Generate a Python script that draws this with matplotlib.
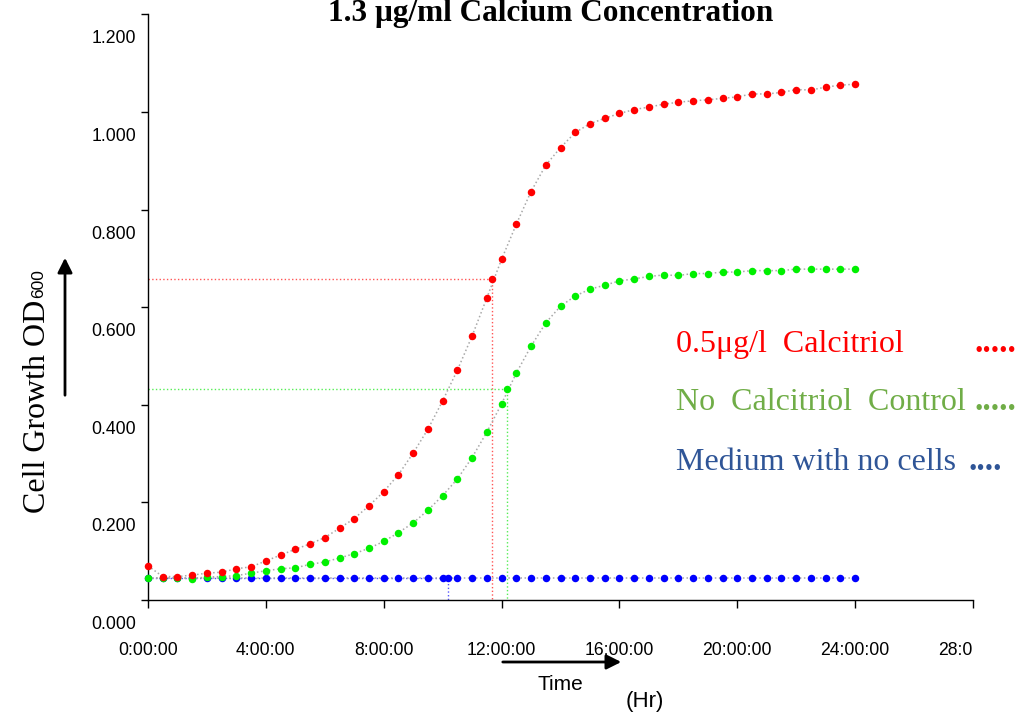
import matplotlib
matplotlib.use("Agg")
import matplotlib.pyplot as plt
import matplotlib.transforms as mtransforms
from matplotlib.ticker import FuncFormatter
import numpy as np

# do OD600 moi 30 phut, 0h -> 24h
hours = np.arange(0, 24.5, 0.5)

od_calcitriol = [0.070, 0.048, 0.048, 0.051, 0.055, 0.057, 0.064, 0.068,
                 0.080, 0.092, 0.104, 0.115, 0.128, 0.147, 0.167, 0.193,
                 0.222, 0.257, 0.301, 0.350, 0.408, 0.471, 0.541, 0.619,
                 0.698, 0.770, 0.837, 0.891, 0.927, 0.958, 0.976, 0.987,
                 0.997, 1.005, 1.010, 1.016, 1.020, 1.023, 1.025, 1.028,
                 1.031, 1.037, 1.037, 1.040, 1.046, 1.045, 1.051, 1.055,
                 1.057]

od_control = [0.045, 0.045, 0.045, 0.044, 0.047, 0.048, 0.050, 0.055,
              0.060, 0.064, 0.066, 0.073, 0.078, 0.086, 0.095, 0.106,
              0.120, 0.138, 0.158, 0.184, 0.214, 0.248, 0.292, 0.344,
              0.402, 0.465, 0.520, 0.568, 0.602, 0.623, 0.637, 0.645,
              0.654, 0.658, 0.663, 0.666, 0.665, 0.669, 0.669, 0.672,
              0.672, 0.675, 0.675, 0.675, 0.678, 0.678, 0.678, 0.678,
              0.678]

od_medium = [0.046, 0.046, 0.046, 0.046, 0.046, 0.046, 0.046, 0.046,
             0.046, 0.046, 0.046, 0.046, 0.046, 0.046, 0.046, 0.046,
             0.046, 0.046, 0.046, 0.046, 0.046, 0.046, 0.046, 0.046,
             0.046, 0.046, 0.046, 0.046, 0.046, 0.046, 0.046, 0.046,
             0.046, 0.046, 0.046, 0.046, 0.046, 0.046, 0.046, 0.046,
             0.046, 0.046, 0.046, 0.046, 0.046, 0.046, 0.046, 0.046,
             0.046]

# duong gioi han (calcitriol, control, medium)
guide_hours = [11.67, 12.2, 10.17]
guide_od = [0.657, 0.433, 0.046]

x_ticks = [0, 4, 8, 12, 16, 20, 24, 28]
y_ticks = [0.0, 0.2, 0.4, 0.6, 0.8, 1.0, 1.2]

W, H = 1025, 717
SANS = "Liberation Sans"
SERIF = "Liberation Serif"

fig = plt.figure(figsize=(W / 100, H / 100), dpi=100)
ax = fig.add_axes([148 / W, 1 - 600 / H, 825 / W, (600 - 14.4) / H])

gray = "#a8a8a8"
series = [(od_medium, "#0000ff"), (od_control, "#00f000"), (od_calcitriol, "#ff0000")]
guide_cols = ["#ff5555", "#55ee55", "#5555ff"]

# guide lines
for gx, gy, c in zip(guide_hours, guide_od, guide_cols):
    ax.plot([0, gx, gx], [gy, gy, 0], color=c, ls=":", lw=1, zorder=2)

for vals, c in series:
    ax.plot(hours, vals, color=gray, ls=":", lw=1.1, marker="o", ms=5.4,
            mfc=c, mec=c, mew=0, zorder=3, clip_on=False)

for gx, gy, c in zip(guide_hours, guide_od, ["#ff0000", "#00f000", "#0000ff"]):
    ax.plot([gx], [gy], ls="none", marker="o", ms=5.4, mfc=c, mec=c, mew=0, zorder=3)

ax.set_xlim(0, 28)
ax.set_ylim(0, 1.2)
ax.set_xticks(x_ticks)
ax.set_yticks(y_ticks)
ax.xaxis.set_major_formatter(FuncFormatter(lambda v, p: "%d:00:00" % int(round(v))))
ax.yaxis.set_major_formatter(FuncFormatter(lambda v, p: "%.3f" % v))
ax.tick_params(axis="x", direction="out", length=6, width=1, pad=24, labelsize=12.7)
ax.tick_params(axis="y", direction="out", length=5, width=1, pad=3.6, labelsize=12.7)
for lbl in ax.get_xticklabels() + ax.get_yticklabels():
    lbl.set_fontfamily(SANS)

for s in ["top", "right"]:
    ax.spines[s].set_visible(False)
for s in ["left", "bottom"]:
    ax.spines[s].set_linewidth(1)

# nhan truc y bi lech xuong nhu excel
shift = mtransforms.ScaledTranslation(0, -22.5 / 100, fig.dpi_scale_trans)
for t in ax.yaxis.get_major_ticks():
    t.label1.set_transform(t.label1.get_transform() + shift)

# nhan 28:00:00 bi cat o mep
last = ax.xaxis.get_major_ticks()[-1].label1
last.set_clip_on(True)
last.set_clip_box(mtransforms.Bbox.from_extents(0, 0, 973, H))

fig.text(551 / W, 1 - 21 / H, "1.3 μg/ml Calcium Concentration", ha="center",
         va="baseline", fontfamily=SERIF, fontweight="bold", fontsize=22.5)

# y label
fig.text(45 / W, 1 - 513 / H, "Cell Growth OD", rotation=90, rotation_mode="anchor",
         ha="left", va="baseline", fontfamily=SERIF, fontsize=23)
fig.text(43 / W, 1 - 298 / H, "600", rotation=90, rotation_mode="anchor",
         ha="left", va="baseline", fontfamily=SANS, fontsize=12.5)

# mui ten
ax.annotate("", xy=(624, H - 662), xytext=(500, H - 662), xycoords="figure pixels",
            textcoords="figure pixels", annotation_clip=False,
            arrowprops=dict(arrowstyle="-|>", color="black", lw=2, mutation_scale=22))
ax.annotate("", xy=(65, H - 255), xytext=(65, H - 398), xycoords="figure pixels",
            textcoords="figure pixels", annotation_clip=False,
            arrowprops=dict(arrowstyle="-|>", color="black", lw=2, mutation_scale=22))
fig.text(560 / W, 1 - 685 / H, "Time", ha="center", va="center", fontfamily=SANS, fontsize=15)
fig.text(645 / W, 1 - 702 / H, "(Hr)", ha="center", va="center", fontfamily=SANS, fontsize=16)

# chu thich
legend_rows = [("0.5μg/l  Calcitriol", ".....", "#ff0000", 352, 975),
               ("No  Calcitriol  Control", ".....", "#70ad47", 410, 974),
               ("Medium with no cells", "....", "#2f5597", 470, 968)]
for txt, dots, c, yb, xd in legend_rows:
    fig.text(676 / W, 1 - yb / H, txt, color=c, ha="left", va="baseline",
             fontfamily=SERIF, fontsize=23)
    fig.text(xd / W, 1 - yb / H, dots, color=c, ha="left", va="baseline",
             fontfamily=SERIF, fontsize=24, fontweight="bold")

fig.savefig("out.png", dpi=100)
